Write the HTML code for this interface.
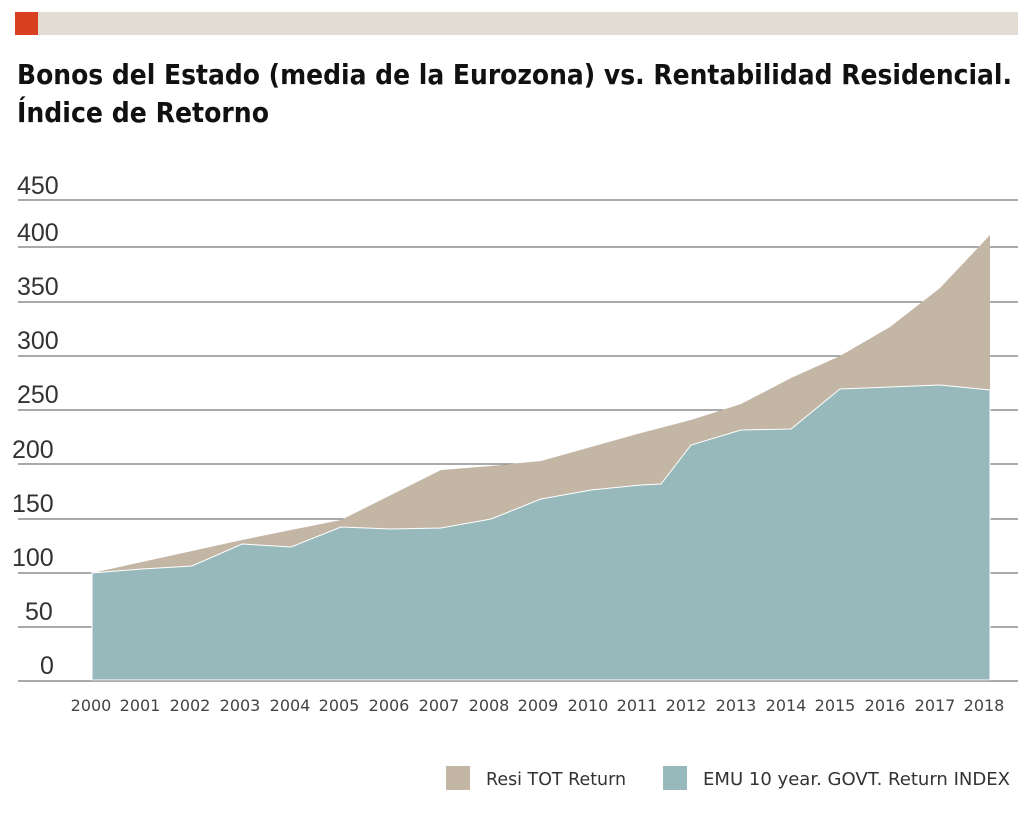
<!DOCTYPE html>
<html><head><meta charset="utf-8"><style>
body{margin:0;background:#fff;width:1024px;height:810px;overflow:hidden;font-family:"Liberation Sans",sans-serif}
</style></head><body>
<svg width="1024" height="810" xmlns="http://www.w3.org/2000/svg" font-family="DejaVu Sans, Liberation Sans, sans-serif">
<rect x="15" y="12" width="1003" height="23" fill="#e3dcd3"/>
<rect x="15" y="12" width="23" height="23" fill="#d9401f"/>
<text x="17" y="84" font-size="28" font-weight="bold" fill="#111" textLength="995" lengthAdjust="spacingAndGlyphs">Bonos del Estado (media de la Eurozona) vs. Rentabilidad Residencial.</text>
<text x="17" y="122" font-size="28" font-weight="bold" fill="#111" textLength="252" lengthAdjust="spacingAndGlyphs">Índice de Retorno</text>
<g stroke="#777" stroke-width="1.3">
<line x1="18" x2="1018" y1="200" y2="200"/><line x1="18" x2="1018" y1="247" y2="247"/>
<line x1="18" x2="1018" y1="302" y2="302"/><line x1="18" x2="1018" y1="356" y2="356"/>
<line x1="18" x2="1018" y1="410" y2="410"/><line x1="18" x2="1018" y1="464" y2="464"/>
<line x1="18" x2="1018" y1="519" y2="519"/><line x1="18" x2="1018" y1="573" y2="573"/>
<line x1="18" x2="1018" y1="627" y2="627"/><line x1="18" x2="1018" y1="681" y2="681"/>
</g>
<g font-size="25" fill="#333" font-family="Liberation Sans, sans-serif">
<text x="17" y="194">450</text><text x="17" y="241">400</text><text x="17" y="295">350</text>
<text x="17" y="349">300</text><text x="17" y="403">250</text><text x="12" y="458">200</text>
<text x="12" y="512">150</text><text x="12" y="566">100</text><text x="25" y="620">50</text>
<text x="40" y="674">0</text>
</g>
<polygon fill="#c4b6a5" points="92,680 92,573 142,562 192,551 242,540 291,530 341,520 391,495 441,470 491,466 541,461 591,447 641,433 691,420 741,404 791,378 840,356 890,327 940,288 990,235 990,680"/>
<polygon fill="#97b9bb" stroke="#fff" stroke-width="1" points="92,680 92,573 142,569 192,566 242,544 291,547 341,527 391,529 441,528 491,519 541,499 591,490 641,485 661,484 691,445 741,430 791,429 840,389 890,387 940,385 990,390 990,680"/>
<g font-size="16" fill="#444" text-anchor="middle">
<text x="91" y="711">2000</text><text x="140" y="711">2001</text><text x="190" y="711">2002</text><text x="240" y="711">2003</text><text x="290" y="711">2004</text><text x="339" y="711">2005</text><text x="389" y="711">2006</text><text x="439" y="711">2007</text><text x="489" y="711">2008</text><text x="538" y="711">2009</text><text x="588" y="711">2010</text><text x="637" y="711">2011</text><text x="686" y="711">2012</text><text x="736" y="711">2013</text><text x="786" y="711">2014</text><text x="835" y="711">2015</text><text x="885" y="711">2016</text><text x="935" y="711">2017</text><text x="984" y="711">2018</text>
</g>
<rect x="446" y="766" width="24" height="24" fill="#c4b6a5"/>
<text x="486" y="785" font-size="18" fill="#333" textLength="140" lengthAdjust="spacingAndGlyphs">Resi TOT Return</text>
<rect x="663" y="766" width="24" height="24" fill="#97b9bb"/>
<text x="703" y="785" font-size="18" fill="#333" textLength="307" lengthAdjust="spacingAndGlyphs">EMU 10 year. GOVT. Return INDEX</text>
</svg>
</body></html>
